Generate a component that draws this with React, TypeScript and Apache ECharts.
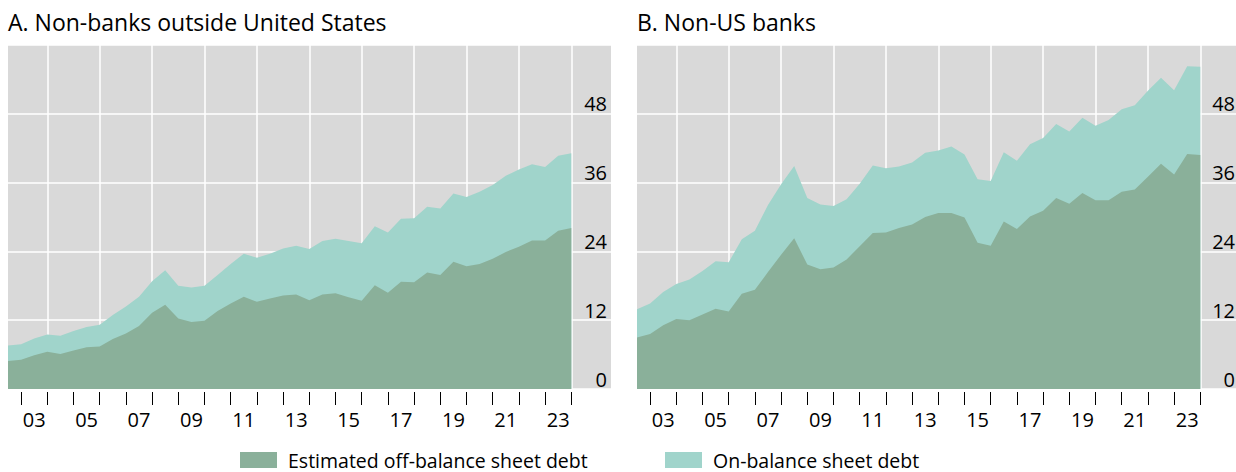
import React, { useEffect, useRef } from "react";
import * as echarts from "echarts";

// Half-year period ends (June / December), as decimal years
const periods = [
  2002.5, 2003, 2003.5, 2004, 2004.5, 2005, 2005.5, 2006, 2006.5, 2007,
  2007.5, 2008, 2008.5, 2009, 2009.5, 2010, 2010.5, 2011, 2011.5, 2012,
  2012.5, 2013, 2013.5, 2014, 2014.5, 2015, 2015.5, 2016, 2016.5, 2017,
  2017.5, 2018, 2018.5, 2019, 2019.5, 2020, 2020.5, 2021, 2021.5, 2022,
  2022.5, 2023, 2023.5, 2024,
];

// Panel A: Non-banks outside United States
const offBalanceA = [
  4.9, 5.1, 5.9, 6.5, 6.1, 6.7, 7.3, 7.4, 8.7, 9.7,
  11.0, 13.3, 14.7, 12.3, 11.7, 11.9, 13.6, 14.9, 16.1, 15.2,
  15.8, 16.3, 16.5, 15.5, 16.5, 16.7, 16.0, 15.4, 18.1, 16.8,
  18.7, 18.6, 20.3, 19.9, 22.2, 21.4, 21.8, 22.7, 23.9, 24.8,
  25.9, 25.9, 27.6, 28.1,
];
const onBalanceA = [
  2.7, 2.7, 2.9, 3.0, 3.2, 3.4, 3.5, 3.8, 4.2, 4.7,
  5.1, 5.5, 6.0, 5.7, 6.0, 6.1, 6.3, 6.9, 7.5, 7.7,
  7.8, 8.2, 8.5, 8.9, 9.3, 9.5, 9.8, 10.0, 10.3, 10.5,
  11.0, 11.2, 11.5, 11.6, 11.9, 12.1, 12.6, 12.9, 13.3, 13.5,
  13.3, 12.8, 13.1, 13.0,
];

// Panel B: Non-US banks
const offBalanceB = [
  9.0, 9.6, 11.1, 12.2, 12.0, 13.0, 14.0, 13.5, 16.6, 17.3,
  20.4, 23.4, 26.3, 21.7, 20.9, 21.2, 22.6, 24.9, 27.2, 27.3,
  28.1, 28.7, 30.0, 30.7, 30.7, 29.9, 25.5, 25.0, 29.2, 27.9,
  30.1, 31.1, 33.3, 32.3, 34.2, 32.9, 32.9, 34.4, 34.8, 37.0,
  39.3, 37.4, 41.0, 40.8,
];
const onBalanceB = [
  4.9, 5.3, 5.8, 6.1, 7.1, 7.6, 8.3, 8.6, 9.5, 10.3,
  11.7, 12.3, 12.6, 11.6, 11.3, 10.7, 10.5, 10.9, 11.8, 11.2,
  10.7, 10.8, 11.2, 10.9, 11.6, 11.0, 11.1, 11.3, 12.1, 11.9,
  12.6, 12.7, 12.9, 12.6, 13.1, 13.0, 14.0, 14.4, 14.7, 15.0,
  15.0, 14.7, 15.3, 15.4,
];

const panelTitles = ["A. Non-banks outside United States", "B. Non-US banks"];
const seriesNames = ["Estimated off-balance sheet debt", "On-balance sheet debt"];
const yearLabels = [
  2003.5, 2005.5, 2007.5, 2009.5, 2011.5, 2013.5, 2015.5, 2017.5, 2019.5,
  2021.5, 2023.5,
];
const gridYears = [2004, 2006, 2008, 2010, 2012, 2014, 2016, 2018, 2020, 2022, 2024];
const firstTickYear = 2003;
const lastTickYear = 2024;
const yTicks = [0, 12, 24, 36, 48, 60];

const FONT = "'Open Sans', 'Noto Sans', sans-serif";
const DARK = "#8AB09A";
const LIGHT = "#A0D4CB";
const BG = "#D9D9D9";
const PX_PER_YEAR = 26.2;
const X_MIN = 2002.5;

export default function App() {
  const ref = useRef<HTMLDivElement>(null);

  useEffect(() => {
    document.body.style.margin = "0";
    if (!ref.current) return;
    const chart = echarts.init(ref.current, undefined, { renderer: "svg" });

    const panelsGeom = [
      { left: 8, top: 45, width: 603, height: 344 },
      { left: 637, top: 45, width: 602, height: 344 },
    ];

    const grids: any[] = [];
    const xAxes: any[] = [];
    const yAxes: any[] = [];

    panelsGeom.forEach((g, gi) => {
      const xMax = X_MIN + g.width / PX_PER_YEAR;
      grids.push({
        left: g.left,
        top: g.top,
        width: g.width,
        height: g.height,
        show: true,
        backgroundColor: BG,
        borderWidth: 0,
        containLabel: false,
        outerBoundsMode: "none",
      });
      // main x axis: labels centred in odd years
      xAxes.push({
        type: "value",
        gridIndex: gi,
        min: X_MIN,
        max: xMax,
        position: "bottom",
        axisLine: { show: false },
        axisTick: { show: false },
        axisLabel: {
          show: true,
          customValues: yearLabels,
          formatter: (v: number) => String(Math.floor(v) % 100).padStart(2, "0"),
          fontFamily: FONT,
          fontSize: 20,
          color: "#000",
          margin: 20,
        },
        splitLine: { show: false },
      });
      // vertical white gridlines every second year
      xAxes.push({
        type: "value",
        gridIndex: gi,
        min: X_MIN,
        max: xMax,
        position: "top",
        axisLine: { show: false },
        axisTick: { show: false, customValues: gridYears },
        axisLabel: { show: false },
        splitLine: { show: true, lineStyle: { color: "#fff", width: 1.5 } },
      });
      yAxes.push({
        type: "value",
        gridIndex: gi,
        position: "right",
        min: 0,
        max: 60,
        interval: 12,
        axisLine: { show: false },
        axisTick: { show: false },
        splitLine: { show: true, lineStyle: { color: "#fff", width: 1.5 } },
        axisLabel: {
          inside: true,
          margin: 4,
          verticalAlign: "bottom",
          fontFamily: FONT,
          fontSize: 20,
          color: "#000",
          formatter: (v: number) => (v >= yTicks[yTicks.length - 1] ? "" : String(v)),
        },
      });
    });

    // year-boundary tick marks: a thin helper grid spanning firstTickYear..lastTickYear
    panelsGeom.forEach((g, gi) => {
      const gridIdx = 2 + gi;
      const left = g.left + (firstTickYear - X_MIN) * PX_PER_YEAR;
      const width = (lastTickYear - firstTickYear) * PX_PER_YEAR;
      grids.push({
        left,
        top: g.top + g.height - 1,
        width,
        height: 1,
        show: false,
        containLabel: false,
        outerBoundsMode: "none",
      });
      xAxes.push({
        type: "value",
        gridIndex: gridIdx,
        min: firstTickYear,
        max: lastTickYear,
        interval: 1,
        position: "bottom",
        offset: 3,
        axisLine: { show: false, onZero: false },
        axisTick: { show: true, length: 13, lineStyle: { color: "#000", width: 1 } },
        axisLabel: { show: false },
        splitLine: { show: false },
      });
      yAxes.push({
        type: "value",
        gridIndex: gridIdx,
        min: 0,
        max: 1,
        show: false,
      });
    });

    const panels = [
      [offBalanceA, onBalanceA],
      [offBalanceB, onBalanceB],
    ];
    const series: any[] = [];
    panels.forEach(([off, on], gi) => {
      // on-balance debt stacked on top of the estimated off-balance debt
      series.push({
        type: "line",
        name: seriesNames[1],
        xAxisIndex: gi * 2,
        yAxisIndex: gi,
        data: periods.map((p, i) => [p, off[i] + on[i]]),
        showSymbol: false,
        symbol: "none",
        lineStyle: { width: 0, color: LIGHT },
        itemStyle: { color: LIGHT },
        areaStyle: { color: LIGHT, opacity: 1 },
        emphasis: { disabled: true },
        z: 3,
      });
      series.push({
        type: "line",
        name: seriesNames[0],
        xAxisIndex: gi * 2,
        yAxisIndex: gi,
        data: periods.map((p, i) => [p, off[i]]),
        showSymbol: false,
        symbol: "none",
        lineStyle: { width: 0, color: DARK },
        itemStyle: { color: DARK },
        areaStyle: { color: DARK, opacity: 1 },
        emphasis: { disabled: true },
        z: 4,
      });
    });

    const legendBase = {
      top: 450,
      padding: 0,
      // filled 37x16 swatch plus a 6px transparent gap before the text
      icon: "path://M0,0H37V16H0Z M43,16",
      itemWidth: 43,
      itemHeight: 16,
      selectedMode: false,
      textStyle: { fontFamily: FONT, fontSize: 19.5, lineHeight: 16, color: "#000" },
    };

    chart.setOption({
      animation: false,
      textStyle: { fontFamily: FONT },
      title: panelTitles.map((t, i) => ({
        text: t,
        left: panelsGeom[i].left,
        top: 10,
        padding: 0,
        textStyle: { fontFamily: FONT, fontSize: 23, fontWeight: "normal", color: "#000" },
      })),
      legend: [
        { ...legendBase, left: 240, data: [seriesNames[0]] },
        { ...legendBase, left: 665, data: [seriesNames[1]] },
      ],
      grid: grids,
      xAxis: xAxes,
      yAxis: yAxes,
      series,
    });

    return () => chart.dispose();
  }, []);

  return <div ref={ref} style={{ width: 1236, height: 472 }} />;
}
